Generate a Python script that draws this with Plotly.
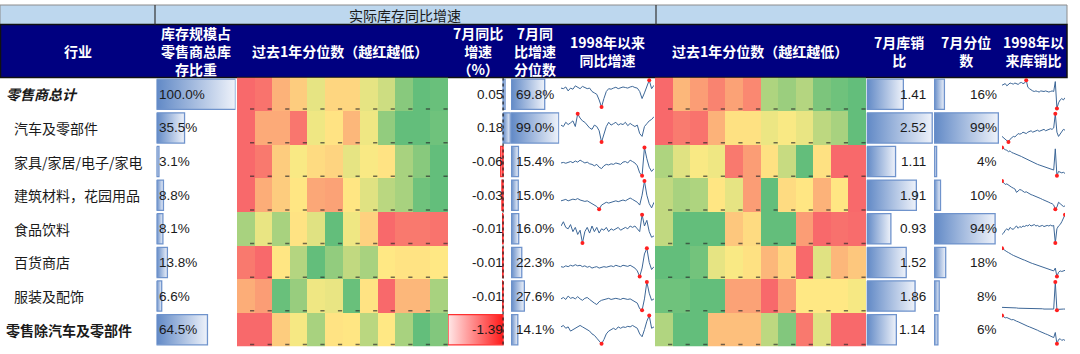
import plotly.graph_objects as go
import numpy as np

# ---------------- data ----------------
industries = ["零售商总计", "汽车及零部件", "家具/家居/电子/家电", "建筑材料，花园用品",
              "食品饮料", "百货商店", "服装及配饰", "零售除汽车及零部件"]
label_bold = [True, False, False, False, False, False, False, True]
label_italic = [True, False, False, False, False, False, False, False]

inv_weight = [100.0, 35.5, 3.1, 8.8, 8.1, 13.8, 6.6, 64.5]          # %
yoy_jul = [0.05, 0.18, -0.06, -0.03, -0.01, -0.01, -0.01, -1.39]     # %
yoy_jul_pct = [69.8, 99.0, 15.4, 15.0, 16.0, 22.3, 27.6, 14.1]       # %
ratio_jul = [1.41, 2.52, 1.11, 1.91, 0.93, 1.52, 1.86, 1.14]
ratio_jul_pct = [16, 99, 4, 10, 94, 18, 8, 6]                         # %

# past-year percentile heatmaps (0 = red / low, 1 = green / high)
heat_yoy = [
    [0.00, 0.04, 0.28, 0.38, 0.58, 0.42, 0.42, 0.58, 0.66, 0.88, 1.00, 0.98],
    [0.00, 0.25, 0.25, 0.05, 0.55, 0.47, 0.30, 0.55, 0.85, 1.00, 1.00, 0.96],
    [0.00, 0.06, 0.38, 0.52, 0.44, 0.41, 0.58, 0.52, 0.47, 0.78, 0.88, 1.00],
    [0.00, 0.26, 0.38, 0.48, 0.24, 0.22, 0.48, 0.60, 0.72, 0.78, 0.96, 1.00],
    [0.78, 0.57, 0.78, 0.47, 0.60, 1.00, 0.55, 0.40, 0.00, 0.06, 0.06, 0.04],
    [0.06, 0.00, 0.48, 0.74, 1.00, 0.85, 0.70, 0.78, 0.49, 0.47, 0.47, 0.49],
    [0.26, 0.20, 0.98, 0.83, 0.55, 0.57, 0.98, 0.47, 0.00, 0.30, 0.30, 0.78],
    [0.00, 0.00, 0.38, 0.53, 0.78, 0.47, 0.48, 0.72, 0.49, 0.78, 1.00, 0.90],
]
heat_ratio = [
    [0.00, 0.30, 0.20, 0.10, 0.22, 0.12, 0.76, 0.82, 0.74, 0.92, 0.96, 1.00],
    [0.00, 0.07, 0.04, 0.28, 0.46, 0.46, 0.56, 0.52, 0.57, 0.71, 0.78, 1.00],
    [0.76, 0.60, 0.52, 0.55, 0.06, 0.20, 0.46, 0.68, 1.00, 0.46, 0.00, 0.00],
    [0.70, 0.78, 0.76, 0.48, 0.58, 0.20, 1.00, 0.44, 0.48, 0.28, 0.48, 0.00],
    [0.70, 1.00, 1.00, 1.00, 0.36, 0.44, 1.00, 1.00, 0.20, 0.00, 0.03, 0.01],
    [1.00, 1.00, 0.95, 0.58, 0.52, 0.46, 0.30, 0.42, 0.00, 0.60, 0.30, 0.36],
    [0.96, 0.96, 1.00, 1.00, 0.22, 0.22, 0.00, 0.20, 0.49, 0.49, 0.49, 0.53],
    [0.75, 1.00, 1.00, 0.33, 0.33, 0.33, 0.71, 0.90, 0.06, 0.60, 0.00, 0.00],
]

# sparklines since 1998 (shape, scaled per row 0..1)
spark_yoy = [
    [0.72,0.70,0.76,0.62,0.72,0.68,0.80,0.75,0.70,0.78,0.74,0.70,0.72,0.60,0.55,0.50,0.30,0.05,0.35,0.60,
     0.70,0.68,0.72,0.75,0.70,0.73,0.76,0.74,0.72,0.76,0.78,0.74,0.72,0.60,0.35,0.55,0.75,1.00,0.70,0.82],
    [0.60,0.55,0.70,0.62,0.68,0.75,0.55,1.00,0.85,0.75,0.70,0.60,0.50,0.45,0.60,0.55,0.40,0.00,0.30,0.55,
     0.70,0.60,0.65,0.70,0.60,0.65,0.62,0.70,0.58,0.66,0.60,0.55,0.60,0.30,0.20,0.55,0.65,0.75,0.80,0.90],
    [0.45,0.47,0.44,0.48,0.50,0.46,0.52,0.48,0.55,0.50,0.45,0.48,0.42,0.40,0.35,0.40,0.30,0.25,0.35,0.40,
     0.38,0.42,0.40,0.45,0.42,0.40,0.48,0.50,0.45,0.55,0.50,0.45,0.35,0.10,0.00,1.00,0.60,0.30,0.15,0.25],
    [0.30,0.32,0.35,0.30,0.33,0.36,0.34,0.38,0.33,0.30,0.28,0.30,0.25,0.20,0.15,0.10,0.00,0.15,0.20,0.25,
     0.22,0.25,0.28,0.30,0.27,0.30,0.33,0.30,0.35,0.40,0.35,0.30,0.25,0.15,0.50,1.00,0.50,0.20,0.05,0.25],
    [0.60,0.75,0.55,0.50,0.65,0.40,0.55,0.30,0.45,0.00,0.40,0.55,0.35,0.60,0.40,0.55,0.35,0.50,0.45,0.55,
     0.40,0.50,0.45,0.50,0.55,0.45,0.50,0.55,0.50,0.60,0.55,0.60,0.50,0.40,1.00,0.60,0.80,0.40,0.20,0.25],
    [0.35,0.33,0.38,0.35,0.40,0.37,0.42,0.38,0.40,0.35,0.38,0.33,0.36,0.30,0.33,0.35,0.30,0.32,0.35,0.33,
     0.36,0.38,0.35,0.40,0.37,0.35,0.40,0.38,0.36,0.40,0.35,0.30,0.20,0.00,0.30,0.80,1.00,0.50,0.25,0.35],
    [0.40,0.45,0.38,0.50,0.42,0.45,0.40,0.48,0.40,0.35,0.42,0.45,0.38,0.30,0.25,0.20,0.30,0.35,0.38,0.40,
     0.42,0.38,0.40,0.42,0.40,0.38,0.42,0.40,0.38,0.40,0.35,0.30,0.25,0.05,0.00,0.40,1.00,0.60,0.35,0.40],
    [0.60,0.65,0.55,0.60,0.45,0.50,0.55,0.60,0.65,0.60,0.55,0.50,0.45,0.35,0.30,0.20,0.10,0.00,0.15,0.35,
     0.45,0.50,0.55,0.50,0.60,0.55,0.60,0.58,0.62,0.60,0.65,0.60,0.55,0.35,0.25,0.50,0.80,1.00,0.55,0.60],
]
spark_ratio = [
    [0.82,0.85,0.88,0.80,0.85,0.90,0.88,0.86,0.90,0.88,0.85,0.90,0.92,0.88,0.90,1.00,0.75,0.70,0.65,0.62,
     0.60,0.62,0.60,0.58,0.62,0.60,0.60,0.62,0.60,0.58,0.60,0.62,0.60,0.95,0.00,0.20,0.30,0.35,0.30,0.38],
    [0.20,0.15,0.10,0.05,0.00,0.10,0.15,0.20,0.18,0.25,0.30,0.28,0.30,0.35,0.33,0.30,0.35,0.38,0.40,0.35,
     0.38,0.40,0.42,0.38,0.40,0.42,0.45,0.40,0.43,0.45,0.47,0.45,0.50,1.00,0.35,0.20,0.30,0.40,0.45,0.42],
    [1.00,0.95,0.92,0.90,0.85,0.88,0.82,0.80,0.78,0.75,0.72,0.70,0.68,0.65,0.62,0.60,0.55,0.52,0.50,0.48,
     0.45,0.42,0.40,0.38,0.36,0.35,0.33,0.30,0.28,0.26,0.25,0.23,0.20,0.95,0.00,0.15,0.12,0.10,0.12,0.08],
    [1.00,0.92,0.88,0.90,0.85,0.80,0.78,0.75,0.72,0.60,0.65,0.70,0.68,0.65,0.60,0.62,0.58,0.55,0.52,0.50,
     0.48,0.45,0.42,0.40,0.38,0.35,0.33,0.30,0.28,0.25,0.22,0.20,0.15,0.00,0.08,0.25,0.20,0.15,0.10,0.12],
    [0.30,0.35,0.45,0.50,0.45,0.55,0.50,0.48,0.55,0.60,0.52,0.58,0.55,0.60,0.58,0.62,0.60,0.65,0.60,0.62,
     0.65,0.60,0.62,0.58,0.60,0.62,0.58,0.60,0.62,0.60,0.63,0.60,0.62,0.00,0.50,0.60,0.65,0.75,0.85,1.00],
    [1.00,0.95,0.90,0.88,0.85,0.80,0.78,0.75,0.72,0.70,0.68,0.65,0.62,0.60,0.58,0.55,0.53,0.50,0.48,0.46,
     0.44,0.42,0.40,0.38,0.36,0.34,0.32,0.30,0.28,0.26,0.24,0.22,0.20,0.30,0.00,0.15,0.20,0.18,0.20,0.22],
    [0.10,0.10,0.10,0.09,0.09,0.09,0.08,0.08,0.08,0.08,0.07,0.07,0.07,0.07,0.07,0.06,0.06,0.06,0.06,0.06,
     0.05,0.05,0.05,0.05,0.05,0.05,0.04,0.04,0.04,0.04,0.04,0.04,0.04,1.00,0.00,0.03,0.04,0.04,0.04,0.04],
    [1.00,0.95,0.92,0.93,0.90,0.88,0.85,0.86,0.82,0.80,0.78,0.75,0.72,0.70,0.68,0.65,0.62,0.60,0.58,0.55,
     0.52,0.50,0.48,0.45,0.42,0.40,0.38,0.35,0.33,0.30,0.28,0.26,0.22,0.40,0.00,0.15,0.18,0.12,0.15,0.12],
]

top_title = "实际库存同比增速"
headers = ["行业", "库存规模占<br>零售商总库<br>存比重", "过去1年分位数（越红越低）",
           "7月同比<br>增速<br>（%）", "7月同<br>比增速<br>分位数", "1998年以来<br>同比增速",
           "过去1年分位数（越红越低）", "7月库销<br>比", "7月分位<br>数", "1998年以<br>来库销比"]

# ---------------- layout helpers ----------------
W, H = 1080, 354
def fx(px): return px / W
def fy(py): return 1 - py / H

ROW_TOP, ROW_BOT = 77.5, 346.5
n = len(industries)
rows = list(range(n))

CJK = "Noto Sans CJK SC, Liberation Sans, sans-serif"
NUM = "Liberation Sans, Arial, sans-serif"
TXT = "#1a1a1a"
BLUE0, BLUE1, BLUEL = "#6189c6", "#eef2fa", "#6f93cc"
RED0, RED1 = "#ff1a1a", "#ffe8e8"
HEAT = [[0, "#F8696B"], [0.5, "#FFEB84"], [1, "#63BE7B"]]

axes = {
    "x":  (156.5, 235.5, [0, 100]),
    "x2": (237, 448, [-0.5, 11.5]),
    "x3": (448, 511, [-1.39, 0.2]),
    "x4": (511, 559.3, [0, 100]),
    "x5": (561, 654, [0, 39]),
    "x6": (655, 866, [-0.5, 11.5]),
    "x7": (866.7, 933, [0, 2.55]),
    "x8": (934, 999, [0, 100]),
    "x9": (1002, 1065, [0, 39]),
}

fig = go.Figure()

def hbar(ax, r, v, c_base, c_end, border, h=0.45):
    cs = [[0, c_base], [1, c_end]] if v >= 0 else [[0, c_end], [1, c_base]]
    fig.add_trace(go.Scatter(
        x=[0, v, v, 0, 0], y=[r - h, r - h, r + h, r + h, r - h],
        xaxis=ax, yaxis="y", mode="lines", fill="toself",
        line=dict(color=border, width=1.3),
        fillgradient=dict(type="horizontal", colorscale=cs),
        hoverinfo="skip", showlegend=False))

# heatmaps (+ the tiny cell marks at each cell's lower-right corner)
for ax, z in (("x2", heat_yoy), ("x6", heat_ratio)):
    fig.add_trace(go.Heatmap(z=z, x=list(range(12)), y=rows, xaxis=ax, yaxis="y",
                             colorscale=HEAT, zmin=0, zmax=1, showscale=False,
                             hoverinfo="skip"))
    cx = [c + 0.36 for r in rows for c in range(len(z[r]))]
    cy = [r + 0.44 for r in rows for c in range(len(z[r]))]
    fig.add_trace(go.Scatter(x=cx, y=cy, xaxis=ax, yaxis="y", mode="markers",
                             marker=dict(symbol="line-ew", size=3,
                                         line=dict(color="rgba(40,40,40,0.65)", width=1.5)),
                             hoverinfo="skip", showlegend=False))

# bars
for r in rows:
    hbar("x", r, inv_weight[r], BLUE0, BLUE1, BLUEL)
    if yoy_jul[r] >= 0:
        hbar("x3", r, yoy_jul[r], BLUE0, BLUE1, BLUEL)
    else:
        hbar("x3", r, yoy_jul[r], RED0, RED1, "#ff3030")
    hbar("x4", r, yoy_jul_pct[r], BLUE0, BLUE1, BLUEL)
    hbar("x7", r, ratio_jul[r], BLUE0, BLUE1, BLUEL)
    hbar("x8", r, ratio_jul_pct[r], BLUE0, BLUE1, BLUEL)

# sparklines
SP = 0.42
for ax, data in (("x5", spark_yoy), ("x9", spark_ratio)):
    for r in rows:
        v = np.array(data[r])
        yy = r + SP - 2 * SP * v
        xx = np.arange(len(v))
        fig.add_trace(go.Scatter(x=xx, y=yy, xaxis=ax, yaxis="y", mode="lines",
                                 line=dict(color="#3d6797", width=1),
                                 hoverinfo="skip", showlegend=False))
        idx = [int(np.argmax(v)), int(np.argmin(v))]
        fig.add_trace(go.Scatter(x=xx[idx], y=yy[idx], xaxis=ax, yaxis="y", mode="markers",
                                 marker=dict(color="#ff2020", size=4),
                                 hoverinfo="skip", showlegend=False))

# ---------------- axes ----------------
lay = dict(
    width=W, height=H, margin=dict(l=0, r=0, t=0, b=0),
    paper_bgcolor="white", plot_bgcolor="rgba(0,0,0,0)", showlegend=False,
    yaxis=dict(domain=[fy(ROW_BOT), fy(ROW_TOP)], range=[n - 0.5, -0.5],
               visible=False, fixedrange=True),
)
for name, (a, b, rng) in axes.items():
    key = "xaxis" if name == "x" else "xaxis" + name[1:]
    lay[key] = dict(domain=[fx(a), fx(b)], range=rng, visible=False,
                    anchor="y", fixedrange=True)
fig.update_layout(**lay)

shapes = []
ann = []
# top light-blue band
shapes.append(dict(type="rect", xref="paper", yref="paper", x0=0, x1=fx(1067),
                   y0=fy(24.5), y1=fy(5), fillcolor="#BDD7EE",
                   line=dict(color="#8c8c8c", width=1), layer="below"))
for px in (155, 656):
    shapes.append(dict(type="line", xref="paper", yref="paper", x0=fx(px), x1=fx(px),
                       y0=fy(24.5), y1=fy(5), line=dict(color="#333333", width=1.2)))
ann.append(dict(xref="paper", yref="paper", x=fx(405), y=fy(14.5), text=top_title,
                xanchor="center", yanchor="middle",
                showarrow=False, font=dict(family=CJK, size=14, color=TXT)))
# navy header
shapes.append(dict(type="rect", xref="paper", yref="paper", x0=fx(0.5), x1=fx(1067),
                   y0=fy(77.5), y1=fy(24.5), fillcolor="#000080",
                   line=dict(color="#111111", width=1.5), layer="below"))
hdr_x = [78, 196, 340, 478, 534.5, 607, 760, 898.5, 966, 1033.5]
for x, t in zip(hdr_x, headers):
    ann.append(dict(xref="paper", yref="paper", x=fx(x), y=fy(50.5), text="<b>" + t + "</b>",
                    xanchor="center", yanchor="middle",
                    showarrow=False, align="center",
                    font=dict(family=CJK, size=14, color="white")))
# zero line of yoy column
shapes.append(dict(type="line", xref="x3", yref="y", x0=0, x1=0, y0=-0.5, y1=n - 0.5,
                   line=dict(color="#222222", width=1.2, dash="dot")))

# row labels
for r in rows:
    t = industries[r]
    if label_italic[r]:
        t = "<i>" + t + "</i>"
    if label_bold[r]:
        t = "<b>" + t + "</b>"
    xpx = 4 if label_bold[r] else 12
    ann.append(dict(xref="paper", yref="y", x=fx(xpx), y=r, text=t, xanchor="left",
                    yanchor="middle",
                    showarrow=False, font=dict(family=CJK, size=14, color=TXT)))

# value labels
for r in rows:
    f = dict(family=NUM, size=13.5, color=TXT)
    ann.append(dict(xref="x", yref="y", x=0, y=r, text=f"{inv_weight[r]:.1f}%",
                    xanchor="left", xshift=0, showarrow=False, font=f))
    ann.append(dict(xref="x3", yref="y", x=0, y=r, text=f"{yoy_jul[r]:.2f}",
                    xanchor="right", xshift=2, showarrow=False, font=f))
    ann.append(dict(xref="x4", yref="y", x=0, y=r, text=f"{yoy_jul_pct[r]:.1f}%",
                    xanchor="left", xshift=3, showarrow=False, font=f))
    ann.append(dict(xref="x7 domain", yref="y", x=1, y=r, text=f"{ratio_jul[r]:.2f}",
                    xanchor="right", xshift=-5, showarrow=False, font=f))
    ann.append(dict(xref="x8 domain", yref="y", x=1, y=r, text=f"{ratio_jul_pct[r]:d}%",
                    xanchor="right", xshift=0, showarrow=False, font=f))

fig.update_layout(shapes=shapes, annotations=ann)
fig.write_html("out.html")
